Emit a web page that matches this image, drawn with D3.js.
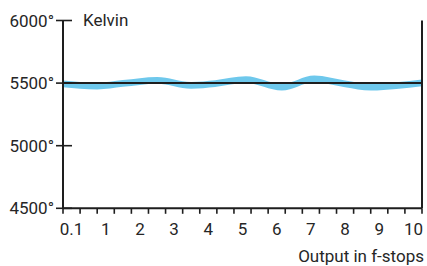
<!DOCTYPE html>
<html>
<head>
<meta charset="utf-8">
<script src="https://cdn.jsdelivr.net/npm/d3@7"></script>
<style>
  body { margin: 0; background: #fff; }
  text { font-family: Roboto, "DejaVu Sans", sans-serif; fill: #262626; }
</style>
</head>
<body>
<svg id="chart" width="427" height="266"></svg>
<script>
// f-stop labels, placed at index 0..10
const stopLabels = ["0.1", "1", "2", "3", "4", "5", "6", "7", "8", "9", "10"];
const kelvinTicks = [4500, 5000, 5500, 6000];

// colour temperature band (position in stop index units)
const bandPos = [-0.25, 0.75, 1.5, 2.5, 3.5, 4.2, 5.1, 6.15, 7.1, 8.0, 8.75, 9.5, 10.25];
const bandUpper = [5521, 5503, 5524, 5549, 5509, 5523, 5554, 5494, 5560, 5521, 5494, 5507, 5529];
const bandLower = [5467, 5449, 5470, 5495, 5455, 5469, 5500, 5440, 5506, 5467, 5440, 5453, 5475];
const referenceKelvin = 5500;

const svg = d3.select("#chart");
const plotLeft = 63, plotRight = 422, plotTop = 20.5, plotBottom = 208.3;

const x = d3.scaleLinear().domain([-0.25, 10.25]).range([plotLeft, plotRight]);
const y = d3.scaleLinear().domain([4500, 6000]).range([plotBottom, plotTop]);

// blue band
const area = d3.area()
  .x((d, i) => x(bandPos[i]))
  .y0((d, i) => y(bandLower[i]))
  .y1((d, i) => y(bandUpper[i]))
  .curve(d3.curveMonotoneX);

svg.append("path")
  .datum(bandPos)
  .attr("d", area)
  .attr("fill", "#6ec8ec");

// 5500 reference line
svg.append("line")
  .attr("x1", plotLeft).attr("x2", plotRight)
  .attr("y1", y(referenceKelvin)).attr("y2", y(referenceKelvin))
  .attr("stroke", "#1e1e1e")
  .attr("stroke-width", 2);

// axes frame
svg.append("line")
  .attr("x1", plotLeft).attr("x2", plotLeft)
  .attr("y1", plotTop).attr("y2", plotBottom)
  .attr("stroke", "#1e1e1e").attr("stroke-width", 2);
svg.append("line")
  .attr("x1", plotRight).attr("x2", plotRight)
  .attr("y1", plotTop).attr("y2", plotBottom)
  .attr("stroke", "#1e1e1e").attr("stroke-width", 2);
svg.append("line")
  .attr("x1", plotLeft).attr("x2", plotRight)
  .attr("y1", plotBottom).attr("y2", plotBottom)
  .attr("stroke", "#1e1e1e").attr("stroke-width", 2);

// y ticks + labels
const yTick = svg.selectAll(".ytick")
  .data(kelvinTicks)
  .join("g")
  .attr("class", "ytick")
  .attr("transform", (d) => `translate(${plotLeft},${y(d)})`);
yTick.append("line")
  .attr("x1", -7).attr("x2", 9)
  .attr("stroke", "#1e1e1e").attr("stroke-width", 1.6);
yTick.append("text")
  .attr("x", -9)
  .attr("dy", "0.36em")
  .attr("text-anchor", "end")
  .style("font-size", "17px")
  .text((d) => d + "°");

// x ticks at every half step
const xTicks = d3.range(22).map((i) => -0.25 + i * 0.5);
svg.selectAll(".xtick")
  .data(xTicks)
  .join("line")
  .attr("class", "xtick")
  .attr("x1", (d) => x(d)).attr("x2", (d) => x(d))
  .attr("y1", plotBottom).attr("y2", plotBottom + 5.5)
  .attr("stroke", "#1e1e1e").attr("stroke-width", 1.6);

svg.selectAll(".xlabel")
  .data(stopLabels)
  .join("text")
  .attr("class", "xlabel")
  .attr("x", (d, i) => x(i))
  .attr("y", 235)
  .attr("text-anchor", "middle")
  .style("font-size", "17px")
  .text((d) => d);

// titles
svg.append("text")
  .attr("x", 83)
  .attr("y", 25.5)
  .style("font-size", "17px")
  .text("Kelvin");

svg.append("text")
  .attr("x", 424)
  .attr("y", 262)
  .attr("text-anchor", "end")
  .style("font-size", "17px")
  .text("Output in f-stops");
</script>
</body>
</html>
